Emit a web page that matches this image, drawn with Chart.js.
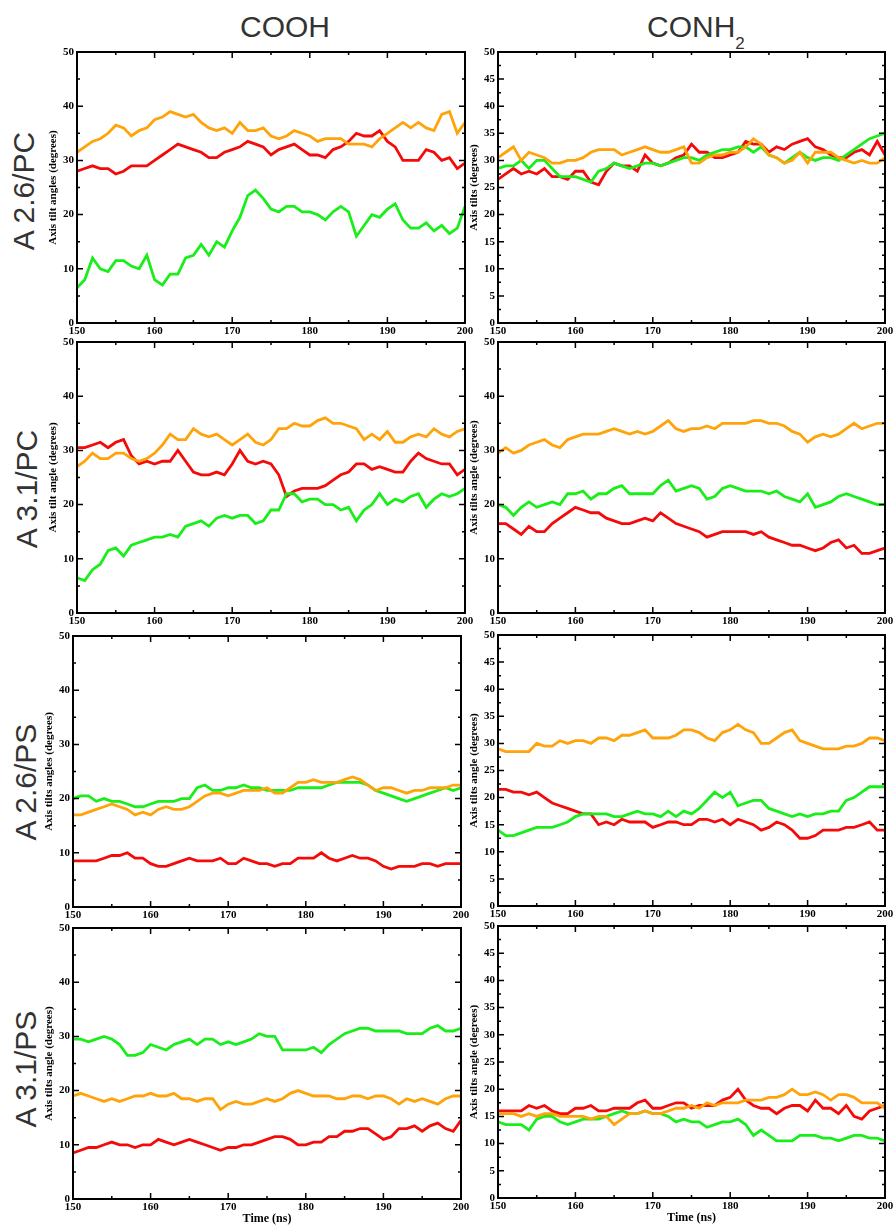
<!DOCTYPE html>
<html>
<head>
<meta charset="utf-8">
<title>Axis tilt angles</title>
<script src="https://cdn.jsdelivr.net/npm/chart.js@4.4.0/dist/chart.umd.min.js"></script>
<style>
	html, body { margin: 0; padding: 0; background: #fff; overflow: hidden; }
	#page { position: relative; width: 895px; height: 1226px; }
	.colTitle { position: absolute; font-family: 'Liberation Sans', Arial, sans-serif; font-size: 30px; line-height: 30px; color: #333; white-space: nowrap; }
	.colTitle span { font-size: 17px; vertical-align: -12px; }
	.rowTitle { position: absolute; width: 200px; height: 40px; line-height: 40px; text-align: center; font-family: 'Liberation Sans', Arial, sans-serif; font-size: 30px; color: #333; transform: rotate(-90deg); white-space: nowrap; }
	canvas { position: absolute; }
</style>
</head>
<body>
<div id="page">
	<div class="colTitle" style="left:240px; top:12px;">COOH</div>
	<div class="colTitle" style="left:647px; top:12px;">CONH<span>2</span></div>
	<div class="rowTitle" style="left:-76px; top:171px;">A 2.6/PC</div>
	<div class="rowTitle" style="left:-73px; top:469px;">A 3.1/PC</div>
	<div class="rowTitle" style="left:-74px; top:762px;">A 2.6/PS</div>
	<div class="rowTitle" style="left:-74px; top:1049px;">A 3.1/PS</div>
</div>
<script>
(function() {
	'use strict';

	// time axis (ns) and tick labels
	var times = [150, 151, 152, 153, 154, 155, 156, 157, 158, 159,
		160, 161, 162, 163, 164, 165, 166, 167, 168, 169,
		170, 171, 172, 173, 174, 175, 176, 177, 178, 179,
		180, 181, 182, 183, 184, 185, 186, 187, 188, 189,
		190, 191, 192, 193, 194, 195, 196, 197, 198, 199, 200];
	var xTicks = [150, 160, 170, 180, 190, 200];
	var yTicksTen = [0, 10, 20, 30, 40, 50];
	var yTicksFive = [0, 5, 10, 15, 20, 25, 30, 35, 40, 45, 50];

	// A 2.6 / PC, COOH
	var coohPc26Red = [28, 28.5, 29, 28.5, 28.5, 27.5, 28, 29, 29, 29,
		30, 31, 32, 33, 32.5, 32, 31.5, 30.5, 30.5, 31.5,
		32, 32.5, 33.5, 33, 32.5, 31, 32, 32.5, 33, 32,
		31, 31, 30.5, 32, 32.5, 33.5, 35, 34.5, 34.5, 35.5,
		33.5, 32.5, 30, 30, 30, 32, 31.5, 30, 30.5, 28.5, 29.5];
	var coohPc26Green = [6.5, 8, 12, 10, 9.5, 11.5, 11.5, 10.5, 10, 12.5,
		8, 7, 9, 9, 12, 12.5, 14.5, 12.5, 15, 14,
		17, 19.5, 23.5, 24.5, 23, 21, 20.5, 21.5, 21.5, 20.5,
		20.5, 20, 19, 20.5, 21.5, 20.5, 16, 18, 20, 19.5,
		21, 22, 19, 17.5, 17.5, 18.5, 17, 18, 16.5, 17.5, 21.5];
	var coohPc26Orange = [31.5, 32.5, 33.5, 34, 35, 36.5, 36, 34.5, 35.5, 36,
		37.5, 38, 39, 38.5, 38, 38.5, 37, 36, 35.5, 36,
		35, 37, 35.5, 35.5, 36, 34.5, 34, 34.5, 35.5, 35,
		34.5, 33.5, 34, 34, 34, 33, 33, 33, 32.5, 34,
		35, 36, 37, 36, 37, 36, 35.5, 38.5, 39, 35, 37];

	// A 2.6 / PC, CONH2
	var conhPc26Red = [26.5, 27.5, 28.5, 27.5, 28, 27.5, 28.5, 27, 27, 26.5,
		28, 28, 26, 25.5, 28, 29.5, 29, 29, 28, 31,
		29.5, 29, 29.5, 30.5, 31, 33, 31.5, 31.5, 30.5, 30.5,
		31, 31.5, 33.5, 33, 33, 31.5, 32.5, 32, 33, 33.5,
		34, 32.5, 32, 31, 30.5, 30.5, 31.5, 32, 31, 33.5, 31];
	var conhPc26Green = [28.5, 29, 29, 30, 28.5, 30, 30, 28.5, 27, 27,
		27, 26.5, 26, 28, 28.5, 29.5, 29, 28.5, 29, 29.5,
		29.5, 29, 29.5, 30, 30.5, 30.5, 30, 31, 31.5, 32,
		32, 32.5, 32.5, 31.5, 32.5, 31, 30.5, 29.5, 30.5, 31.5,
		30.5, 30, 30.5, 30.5, 30, 31, 32, 33, 34, 34.5, 35];
	var conhPc26Orange = [30.5, 31.5, 32.5, 30, 31.5, 31, 30.5, 29.5, 29.5, 30,
		30, 30.5, 31.5, 32, 32, 32, 31, 31.5, 32, 32.5,
		32, 31.5, 31.5, 32, 32.5, 29.5, 29.5, 30.5, 31, 31,
		31.5, 31.5, 32.5, 34, 33, 31, 30.5, 29.5, 30, 31.5,
		29.5, 31.5, 31.5, 31.5, 30.5, 30, 29.5, 30, 29.5, 29.5, 30.5];

	// A 3.1 / PC, COOH
	var coohPc31Red = [30.5, 30.5, 31, 31.5, 30.5, 31.5, 32, 29, 27.5, 28,
		27.5, 28, 28, 30, 28, 26, 25.5, 25.5, 26, 25.5,
		27.5, 30, 28, 27.5, 28, 27.5, 25.5, 21.5, 22.5, 23,
		23, 23, 23.5, 24.5, 25.5, 26, 27.5, 27.5, 26.5, 27,
		26.5, 26, 26, 28, 29.5, 28.5, 28, 27.5, 27.5, 25.5, 26.5];
	var coohPc31Green = [6.5, 6, 8, 9, 11.5, 12, 10.5, 12.5, 13, 13.5,
		14, 14, 14.5, 14, 16, 16.5, 17, 16, 17.5, 18,
		17.5, 18, 18, 16.5, 17, 19, 19, 22, 22, 20.5,
		21, 21, 20, 20, 19, 19.5, 17, 19, 20, 22,
		20, 21, 20.5, 21.5, 22, 19.5, 21, 22, 21.5, 22, 23];
	var coohPc31Orange = [27, 28, 29.5, 28.5, 28.5, 29.5, 29.5, 28.5, 28, 28.5,
		29.5, 31, 33, 32, 32, 34, 33, 32.5, 33, 32,
		31, 32, 33, 31.5, 31, 32, 34, 34, 35, 34.5,
		34.5, 35.5, 36, 35, 35, 34.5, 34, 32, 33, 32,
		33.5, 31.5, 31.5, 32.5, 33, 32.5, 34, 33, 32.5, 33.5, 34];

	// A 3.1 / PC, CONH2
	var conhPc31Red = [16.5, 16.5, 15.5, 14.5, 16, 15, 15, 16.5, 17.5, 18.5,
		19.5, 19, 18.5, 18.5, 17.5, 17, 16.5, 16.5, 17, 17.5,
		17, 18.5, 17.5, 16.5, 16, 15.5, 15, 14, 14.5, 15,
		15, 15, 15, 14.5, 15, 14, 13.5, 13, 12.5, 12.5,
		12, 11.5, 12, 13, 13.5, 12, 12.5, 11, 11, 11.5, 12];
	var conhPc31Green = [20, 19.5, 18, 19.5, 20.5, 19.5, 20, 20.5, 20, 22,
		22, 22.5, 21, 22, 22, 23, 23.5, 22, 22, 22,
		22, 23.5, 24.5, 22.5, 23, 23.5, 23, 21, 21.5, 23,
		23.5, 23, 22.5, 22.5, 22.5, 22, 22.5, 21.5, 21, 20.5,
		22, 19.5, 20, 20.5, 21.5, 22, 21.5, 21, 20.5, 20, 20];
	var conhPc31Orange = [29.5, 30.5, 29.5, 30, 31, 31.5, 32, 31, 30.5, 32,
		32.5, 33, 33, 33, 33.5, 34, 33.5, 33, 33.5, 33,
		33.5, 34.5, 35.5, 34, 33.5, 34, 34, 34.5, 34, 35,
		35, 35, 35, 35.5, 35.5, 35, 35, 34.5, 33.5, 33,
		31.5, 32.5, 33, 32.5, 33, 34, 35, 34, 34.5, 35, 35];

	// A 2.6 / PS, COOH
	var coohPs26Red = [8.5, 8.5, 8.5, 8.5, 9, 9.5, 9.5, 10, 9, 9,
		8, 7.5, 7.5, 8, 8.5, 9, 8.5, 8.5, 8.5, 9,
		8, 8, 9, 8.5, 8, 8, 7.5, 8, 8, 9,
		9, 9, 10, 9, 8.5, 9, 9.5, 9, 9, 8.5,
		7.5, 7, 7.5, 7.5, 7.5, 8, 8, 7.5, 8, 8, 8];
	var coohPs26Green = [20, 20.5, 20.5, 19.5, 20, 19.5, 19.5, 19, 18.5, 18.5,
		19, 19.5, 19.5, 19.5, 20, 20, 22, 22.5, 21.5, 21.5,
		22, 22, 22.5, 22, 22, 21.5, 21.5, 21.5, 21.5, 22,
		22, 22, 22, 22.5, 23, 23, 23, 23, 22.5, 21.5,
		21, 20.5, 20, 19.5, 20, 20.5, 21, 21.5, 22, 21.5, 22];
	var coohPs26Orange = [17, 17, 17.5, 18, 18.5, 19, 18.5, 18, 17, 17.5,
		17, 18, 18.5, 18, 18, 18.5, 19.5, 20.5, 21, 21,
		20.5, 21, 21.5, 21.5, 21.5, 22, 21, 21, 22, 23,
		23, 23.5, 23, 23, 23, 23.5, 24, 23.5, 22.5, 21.5,
		22, 22, 21.5, 21, 21.5, 21.5, 22, 22, 22, 22.5, 22.5];

	// A 2.6 / PS, CONH2
	var conhPs26Red = [21.5, 21.5, 21, 21, 20.5, 21, 20, 19, 18.5, 18,
		17.5, 17, 17, 15, 15.5, 15, 16, 15.5, 15.5, 15.5,
		14.5, 15, 15.5, 15.5, 15, 15, 16, 16, 15.5, 16,
		15, 16, 15.5, 15, 14, 14.5, 15.5, 15, 14, 12.5,
		12.5, 13, 14, 14, 14, 14.5, 14.5, 15, 15.5, 14, 14];
	var conhPs26Green = [14, 13, 13, 13.5, 14, 14.5, 14.5, 14.5, 15, 15.5,
		16.5, 17, 17, 17, 17, 16.5, 16.5, 17, 17.5, 17,
		17, 16.5, 17.5, 16.5, 17.5, 17, 18, 19.5, 21, 20,
		21, 18.5, 19, 19.5, 19.5, 18, 17.5, 17, 16.5, 17,
		16.5, 17, 17, 17.5, 17.5, 19.5, 20, 21, 22, 22, 22];
	var conhPs26Orange = [29, 28.5, 28.5, 28.5, 28.5, 30, 29.5, 29.5, 30.5, 30,
		30.5, 30.5, 30, 31, 31, 30.5, 31.5, 31.5, 32, 32.5,
		31, 31, 31, 31.5, 32.5, 32.5, 32, 31, 30.5, 32,
		32.5, 33.5, 32.5, 32, 30, 30, 31, 32, 32.5, 30.5,
		30, 29.5, 29, 29, 29, 29.5, 29.5, 30, 31, 31, 30.5];

	// A 3.1 / PS, COOH
	var coohPs31Red = [8.5, 9, 9.5, 9.5, 10, 10.5, 10, 10, 9.5, 10,
		10, 11, 10.5, 10, 10.5, 11, 10.5, 10, 9.5, 9,
		9.5, 9.5, 10, 10, 10.5, 11, 11.5, 11.5, 11, 10,
		10, 10.5, 10.5, 11.5, 11.5, 12.5, 12.5, 13, 13, 12,
		11, 11.5, 13, 13, 13.5, 12.5, 13.5, 14, 13, 12.5, 14.5];
	var coohPs31Green = [29.5, 29.5, 29, 29.5, 30, 29.5, 28.5, 26.5, 26.5, 27,
		28.5, 28, 27.5, 28.5, 29, 29.5, 28.5, 29.5, 29.5, 28.5,
		29, 28.5, 29, 29.5, 30.5, 30, 30, 27.5, 27.5, 27.5,
		27.5, 28, 27, 28.5, 29.5, 30.5, 31, 31.5, 31.5, 31,
		31, 31, 31, 30.5, 30.5, 30.5, 31.5, 32, 31, 31, 31.5];
	var coohPs31Orange = [19, 19.5, 19, 18.5, 18, 18.5, 18, 18.5, 19, 19,
		19.5, 19, 19, 19.5, 18.5, 18.5, 18, 18.5, 18.5, 16.5,
		17.5, 18, 17.5, 17.5, 18, 18.5, 18, 18.5, 19.5, 20,
		19.5, 19, 19, 19, 18.5, 18.5, 19, 19, 18.5, 19,
		19, 18.5, 17.5, 18.5, 18, 18.5, 18, 17.5, 18.5, 19, 19];

	// A 3.1 / PS, CONH2
	var conhPs31Red = [16, 16, 16, 16, 17, 16.5, 17, 16, 15.5, 15.5,
		16.5, 16.5, 17, 16, 16, 16.5, 16.5, 16.5, 17.5, 18,
		16.5, 16.5, 17, 17.5, 17.5, 16.5, 17, 17, 17, 18,
		18.5, 20, 18, 17, 16.5, 16.5, 15.5, 16.5, 17, 17,
		16, 18, 16.5, 16.5, 15.5, 17, 15, 14.5, 16, 16.5, 17];
	var conhPs31Green = [14, 13.5, 13.5, 13.5, 12.5, 14.5, 15, 15, 14, 13.5,
		14, 14.5, 14.5, 14.5, 15, 15.5, 16, 15.5, 15.5, 16,
		15.5, 15.5, 15, 14, 14.5, 14, 14, 13, 13.5, 14,
		14, 14.5, 13.5, 11.5, 12.5, 11.5, 10.5, 10.5, 10.5, 11.5,
		11.5, 11.5, 11, 11, 10.5, 11, 11.5, 11.5, 11, 11, 10.5];
	var conhPs31Orange = [15.5, 15.5, 15.5, 15, 15.5, 15, 15.5, 15.5, 15, 15,
		15, 15, 14.5, 15, 15, 13.5, 14.5, 15.5, 15.5, 16,
		15.5, 15.5, 16, 16.5, 16.5, 17, 16.5, 17.5, 17, 17.5,
		17.5, 17.5, 18, 18, 18, 18.5, 18.5, 19, 20, 19,
		19, 19.5, 19, 18, 19, 19, 18.5, 17.5, 17.5, 17.5, 16.5];

	var red = '#f50a0a';
	var green = '#1aee1a';
	var orange = '#ffa30a';

	// plot area of each panel on the page: left, top, right, bottom
	var panels = [
		{ rect: [77, 52, 465, 323], yTicks: yTicksTen, yTitle: 'Axis tilt angles (degrees)', series: [coohPc26Red, coohPc26Green, coohPc26Orange] },
		{ rect: [498, 52, 885, 323], yTicks: yTicksFive, yTitle: 'Axis tilts (degrees)', series: [conhPc26Red, conhPc26Green, conhPc26Orange] },
		{ rect: [77, 342, 465, 613], yTicks: yTicksTen, yTitle: 'Axis tilt angle (degrees)', series: [coohPc31Red, coohPc31Green, coohPc31Orange] },
		{ rect: [498, 342, 885, 613], yTicks: yTicksTen, yTitle: 'Axis tilts angle (degrees)', series: [conhPc31Red, conhPc31Green, conhPc31Orange] },
		{ rect: [73, 636, 461, 907], yTicks: yTicksTen, yTitle: 'Axis tilts angles (degrees)', series: [coohPs26Red, coohPs26Green, coohPs26Orange] },
		{ rect: [498, 635, 885, 906], yTicks: yTicksFive, yTitle: 'Axis tilts angle (degrees)', series: [conhPs26Red, conhPs26Green, conhPs26Orange] },
		{ rect: [73, 928, 461, 1199], yTicks: yTicksTen, yTitle: 'Axis tilts angle (degrees)', series: [coohPs31Red, coohPs31Green, coohPs31Orange], xTitle: true },
		{ rect: [498, 926, 885, 1198], yTicks: yTicksFive, yTitle: 'Axis tilts angle (degrees)', series: [conhPs31Red, conhPs31Green, conhPs31Orange], xTitle: true }
	];

	// xmgrace style frame with inward ticks on every side
	var frameTicks = {
		id: 'frameTicks',
		afterDraw: function(chart) {
			var ctx = chart.ctx;
			var a = chart.chartArea;
			var xv = chart.scales.x.ticks.map(function(t){ return t.value; });
			var yv = chart.scales.y.ticks.map(function(t){ return t.value; });
			ctx.save();
			ctx.strokeStyle = '#000';
			ctx.lineWidth = 1.5;
			ctx.beginPath();
			function xMark(v, len) {
				var px = chart.scales.x.getPixelForValue(v);
				ctx.moveTo(px, a.bottom); ctx.lineTo(px, a.bottom - len);
				ctx.moveTo(px, a.top); ctx.lineTo(px, a.top + len);
			}
			function yMark(v, len) {
				var py = chart.scales.y.getPixelForValue(v);
				ctx.moveTo(a.left, py); ctx.lineTo(a.left + len, py);
				ctx.moveTo(a.right, py); ctx.lineTo(a.right - len, py);
			}
			for (var i = 0; i < xv.length; i++) {
				xMark(xv[i], 6);
				if (i < xv.length - 1) xMark((xv[i] + xv[i + 1]) / 2, 3);
			}
			for (var j = 0; j < yv.length; j++) {
				yMark(yv[j], 6);
				if (j < yv.length - 1) yMark((yv[j] + yv[j + 1]) / 2, 3);
			}
			ctx.stroke();
			ctx.lineWidth = 2;
			ctx.strokeRect(a.left, a.top, a.right - a.left, a.bottom - a.top);
			ctx.restore();
		}
	};

	function toPoints(values) {
		return values.map(function(v, i){ return { x: times[i], y: v }; });
	}

	var tickFont = { family: "'Liberation Serif', 'Times New Roman', serif", size: 11, weight: 'bold' };
	var page = document.getElementById('page');

	panels.forEach(function(p) {
		var r = p.rect;
		var axisH = p.xTitle ? 27 : 16;
		var cv = document.createElement('canvas');
		cv.width = (r[2] - r[0]) + 30 + 12;
		cv.height = (r[3] - r[1]) + 10 + axisH;
		cv.style.left = (r[0] - 30) + 'px';
		cv.style.top = (r[1] - 10) + 'px';
		page.appendChild(cv);

		var colors = [red, green, orange];
		new Chart(cv.getContext('2d'), {
			type: 'line',
			data: {
				datasets: p.series.map(function(s, k) {
					return {
						data: toPoints(s),
						borderColor: colors[k],
						borderWidth: 2.8,
						pointRadius: 0,
						tension: 0,
						fill: false
					};
				}).reverse()
			},
			options: {
				responsive: false,
				animation: false,
				events: [],
				layout: { padding: { left: 0, right: 12, top: 10, bottom: 0 } },
				plugins: { legend: { display: false }, tooltip: { enabled: false } },
				scales: {
					x: {
						type: 'linear',
						min: 150,
						max: 200,
						afterBuildTicks: function(s){ s.ticks = xTicks.map(function(v){ return { value: v }; }); },
						afterFit: function(s){ s.height = axisH; },
						grid: { display: false, drawTicks: false },
						border: { display: false },
						ticks: { padding: 2, maxRotation: 0, autoSkip: false, color: '#000', font: tickFont },
						title: { display: !!p.xTitle, text: 'Time (ns)', padding: 0, color: '#000', font: { family: tickFont.family, size: 12, weight: 'bold' } }
					},
					y: {
						type: 'linear',
						min: 0,
						max: 50,
						afterBuildTicks: function(s){ s.ticks = p.yTicks.map(function(v){ return { value: v }; }); },
						afterFit: function(s){ s.width = 30; },
						grid: { display: false, drawTicks: false },
						border: { display: false },
						ticks: { padding: 3, autoSkip: false, color: '#000', font: tickFont },
						title: { display: true, text: p.yTitle, padding: 0, color: '#000', font: tickFont }
					}
				}
			},
			plugins: [frameTicks]
		});
	});
})();
</script>
</body>
</html>
